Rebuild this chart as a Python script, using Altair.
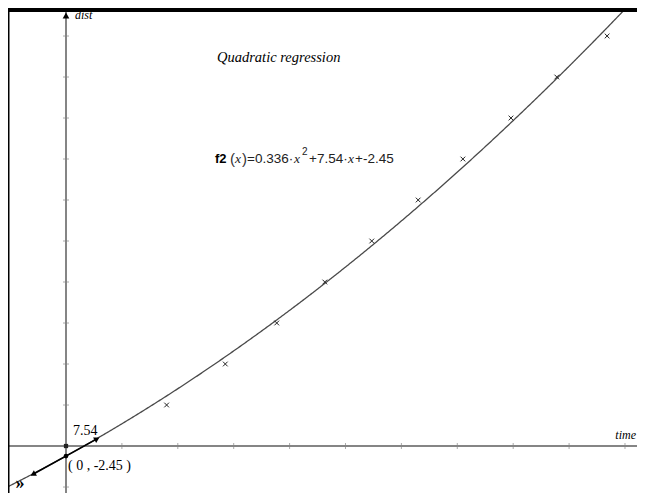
import altair as alt
import numpy as np
import pandas as pd

# ---- data ----
time_vals = [1.8, 2.85, 3.77, 4.63, 5.47, 6.3, 7.1, 7.96, 8.78, 9.68]
dist_vals = [10, 20, 30, 40, 50, 60, 70, 80, 90, 100]

# regression coefficients shown on the chart: f2(x)=a*x^2+b*x+c
coef_a = 0.336
coef_b = 7.54
coef_c = -2.45

x_ticks = [1, 2, 3, 4, 5, 6, 7, 8, 9, 10]
y_ticks = [-10, 10, 20, 30, 40, 50, 60, 70, 80, 90, 100]
tangent_ends = [-0.59, 0.555]

W, H = 629, 485
X0, X1 = -1.0376, 10.215
Y0, Y1 = -11.46, 106.83

xs = alt.Scale(domain=[X0, X1], nice=False, zero=False)
ys = alt.Scale(domain=[Y0, Y1], nice=False, zero=False)

def X(f):
    return alt.X(f"{f}:Q", scale=xs, axis=None)

def Y(f):
    return alt.Y(f"{f}:Q", scale=ys, axis=None)

pts = pd.DataFrame({"t": time_vals, "d": dist_vals})
one = pd.DataFrame({"k": [0]})

AXIS_GRAY = "#858585"

x_axis = alt.Chart(one).mark_rule(color=AXIS_GRAY, strokeWidth=2).encode(y=Y("k"))
y_axis = alt.Chart(one).mark_rule(color=AXIS_GRAY, strokeWidth=2).encode(x=X("k"))

xt = alt.Chart(pd.DataFrame({"t": x_ticks, "z": 0})).mark_tick(
    orient="vertical", size=6, thickness=1, color=AXIS_GRAY).encode(x=X("t"), y=Y("z"))
yt = alt.Chart(pd.DataFrame({"d": y_ticks, "z": 0})).mark_tick(
    orient="horizontal", size=6, thickness=1, color=AXIS_GRAY).encode(y=Y("d"), x=X("z"))

grid = pd.DataFrame({"t": np.arange(X0, X1 + 0.02, 0.02)})
curve = alt.Chart(grid).transform_calculate(
    d=f"{coef_a}*datum.t*datum.t+{coef_b}*datum.t+({coef_c})"
).mark_line(color="#4a4a4a", strokeWidth=1.3, clip=True).encode(x=X("t"), y=Y("d"))

tangent = alt.Chart(pd.DataFrame({"t": tangent_ends})).transform_calculate(
    d=f"{coef_b}*datum.t+({coef_c})"
).mark_line(color="black", strokeWidth=1.6).encode(x=X("t"), y=Y("d"))

arrow_r = alt.Chart(pd.DataFrame({"t": [tangent_ends[1]]})).transform_calculate(
    d=f"{coef_b}*datum.t+({coef_c})"
).mark_point(shape="triangle-up", filled=True, color="black", size=40, angle=61,
             opacity=1).encode(x=X("t"), y=Y("d"))
arrow_l = alt.Chart(pd.DataFrame({"t": [tangent_ends[0]]})).transform_calculate(
    d=f"{coef_b}*datum.t+({coef_c})"
).mark_point(shape="triangle-up", filled=True, color="black", size=40, angle=241,
             opacity=1).encode(x=X("t"), y=Y("d"))

intercept_pt = alt.Chart(pd.DataFrame({"t": [0], "d": [coef_c]})).mark_point(
    shape="circle", filled=True, color="black", size=22, opacity=1).encode(x=X("t"), y=Y("d"))
origin_sq = alt.Chart(pd.DataFrame({"t": [0], "d": [0]})).mark_point(
    shape="square", filled=True, color="#222222", size=18, opacity=1).encode(x=X("t"), y=Y("d"))

y_arrow = alt.Chart(pd.DataFrame({"t": [0], "d": [105.0]})).mark_point(
    shape="triangle-up", filled=True, color="black", size=45, opacity=1).encode(x=X("t"), y=Y("d"))

points = alt.Chart(pts).mark_point(
    shape="M-1,-1L1,1M-1,1L1,-1", filled=False, color="#222222",
    strokeWidth=1, size=22, opacity=1).encode(x=X("t"), y=Y("d"))

top_bar = alt.Chart(one).mark_rect(color="black").encode(
    x=alt.value(0), x2=alt.value(W), y=alt.value(0), y2=alt.value(4))
left_line = alt.Chart(one).mark_rule(color="black", strokeWidth=1.5).encode(
    x=alt.value(0.75), y=alt.value(0), y2=alt.value(H))

def label(txt, x, y, size=12, font="Liberation Serif", style="normal",
          weight="normal", baseline="alphabetic", align="left", color="black"):
    return alt.Chart(one).mark_text(
        text=txt, font=font, fontSize=size, fontStyle=style, fontWeight=weight,
        baseline=baseline, align=align, color=color).encode(
        x=alt.value(x), y=alt.value(y))

texts = [
    label("Quadratic regression", 209, 54, size=14.5, style="italic"),
    label("f2", 207, 155, size=13, font="Liberation Sans", weight="bold"),
    label("(", 222, 156, size=15, font="Liberation Sans", color="#333333"),
    label("x", 227, 155, size=13.5, font="Liberation Serif", style="italic",
          color="#222222"),
    label(")", 234, 156, size=15, font="Liberation Sans", color="#333333"),
    label("=0.336·", 239, 155, size=13.5, font="Liberation Sans", color="#222222"),
    label("x", 286, 155, size=13.5, font="Liberation Serif", style="italic",
          color="#222222"),
    label("2", 294, 147, size=10, font="Liberation Sans", color="#222222"),
    label("+7.54·", 301, 155, size=13.5, font="Liberation Sans", color="#222222"),
    label("x", 340, 155, size=13.5, font="Liberation Serif", style="italic",
          color="#222222"),
    label("+-2.45", 347, 155, size=13.5, font="Liberation Sans", color="#222222"),
    label("dist", 67, 11, size=12, style="italic"),
    label("time", 628, 431, size=12, style="italic", align="right"),
    label("7.54", 65, 427, size=14),
    label("( 0 , -2.45 )", 60, 458, size=14, baseline="middle"),
    label("»", 12, 476, size=18, weight="bold", baseline="middle", align="center"),
]

chart = alt.layer(
    x_axis, y_axis, xt, yt, curve, tangent, arrow_r, arrow_l, intercept_pt,
    origin_sq, y_arrow, points, top_bar, left_line, *texts
).properties(
    width=W, height=H, padding=0, autosize=alt.AutoSizeParams(type="none"),
    background="white"
).configure_view(stroke=None)

chart.save("out.html", embed_options={"renderer": "svg", "actions": False})
